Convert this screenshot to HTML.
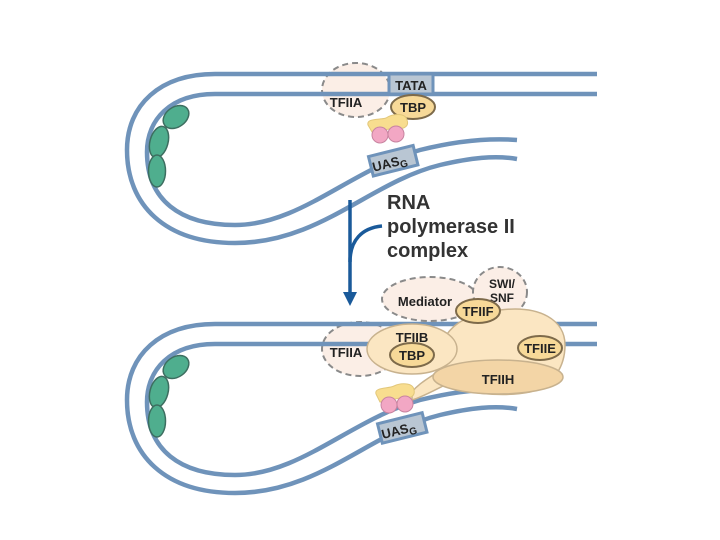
<!DOCTYPE html>
<html><head><meta charset="utf-8"><style>
body{margin:0;background:#fff;}
svg{display:block;font-family:"Liberation Sans",Arial,sans-serif;font-weight:bold;}
</style></head><body>
<svg width="720" height="540" viewBox="0 0 720 540" xmlns="http://www.w3.org/2000/svg">
<defs>
<g id="dna">
<path d="M597,74 L215,74 C160,74 127,105 127,150 C127,205 165,243 235,243 C320,243 370,182 440,165 C470,158 495,155 517,159" fill="none" stroke="#6f93ba" stroke-width="4.5"/>
<path d="M597,94 L215,94 C170,94 147,120 147,152 C147,200 180,225 235,225 C300,225 350,170 420,150 C460,140 490,138 517,140" fill="none" stroke="#6f93ba" stroke-width="4.5"/>
<ellipse cx="176" cy="117" rx="14" ry="10" transform="rotate(-35 176 117)" fill="#4fae8e" stroke="#3d6e60" stroke-width="1.5"/>
<ellipse cx="159" cy="142" rx="9" ry="16" transform="rotate(15 159 142)" fill="#4fae8e" stroke="#3d6e60" stroke-width="1.5"/>
<ellipse cx="157" cy="171" rx="8.5" ry="16" fill="#4fae8e" stroke="#3d6e60" stroke-width="1.5"/>
</g>
</defs>

<!-- dashed backgrounds -->
<ellipse cx="356" cy="90" rx="34" ry="27" fill="#fbeee6" stroke="#8a8a8a" stroke-width="2" stroke-dasharray="6,4"/>
<ellipse cx="360" cy="349" rx="38" ry="27" fill="#fbeee6" stroke="#8a8a8a" stroke-width="2" stroke-dasharray="6,4"/>

<!-- TOP -->
<use href="#dna"/>
<rect x="389" y="74" width="44" height="20" fill="#b9c6d3" stroke="#6f93ba" stroke-width="3"/>
<text x="411" y="90" font-size="13" text-anchor="middle" fill="#222">TATA</text>
<text x="346" y="107" font-size="13" text-anchor="middle" fill="#222">TFIIA</text>
<ellipse cx="413" cy="107" rx="22" ry="12" fill="#f7d998" stroke="#7d6a4a" stroke-width="2"/>
<text x="413" y="112" font-size="13" text-anchor="middle" fill="#222">TBP</text>
<path d="M368,125 C366,118 380,120 386,118 C392,114 405,112 407,120 C410,128 400,130 395,128 L372,132 Z" fill="#f8dd8f" stroke="#e2c77a"/>
<circle cx="380" cy="135" r="8" fill="#f2a7c4" stroke="#c884a0"/>
<circle cx="396" cy="134" r="8" fill="#f2a7c4" stroke="#c884a0"/>
<g transform="rotate(-14 392 160)">
<rect x="370" y="151" width="46" height="20" fill="#b9c6d3" stroke="#6f93ba" stroke-width="3"/>
<text x="389" y="167" font-size="13" text-anchor="middle" fill="#222">UAS<tspan font-size="10" dy="3">G</tspan></text>
</g>

<!-- arrow -->
<path d="M350,200 L350,298" stroke="#1a5a9a" stroke-width="3.5" fill="none"/>
<path d="M350,262 C350,240 362,228 382,226" stroke="#1a5a9a" stroke-width="3.5" fill="none"/>
<path d="M343,292 L357,292 L350,306 Z" fill="#1a5a9a"/>
<text font-size="20" fill="#333"><tspan x="387" y="209">RNA</tspan><tspan x="387" y="233">polymerase II</tspan><tspan x="387" y="257">complex</tspan></text>

<!-- BOTTOM -->
<use href="#dna" transform="translate(0,250)"/>
<ellipse cx="430" cy="299" rx="48" ry="22" fill="#fbeee6" stroke="#8a8a8a" stroke-width="2" stroke-dasharray="6,4"/>
<ellipse cx="500" cy="292" rx="27" ry="25" fill="#fbeee6" stroke="#8a8a8a" stroke-width="2" stroke-dasharray="6,4"/>
<text x="425" y="306" font-size="13" text-anchor="middle" fill="#222">Mediator</text>
<text x="502" y="288" font-size="12" text-anchor="middle" fill="#222">SWI/</text>
<text x="502" y="302" font-size="12" text-anchor="middle" fill="#222">SNF</text>
<!-- pol body -->
<path d="M412,392 C420,382 430,378 440,370 C436,340 450,315 500,310 C540,305 565,320 565,345 C565,365 555,385 530,392 C500,398 460,392 445,385 C435,390 420,398 412,400 Z" fill="#fbe6c2" stroke="#c8b28e" stroke-width="1.5"/>
<ellipse cx="498" cy="377" rx="65" ry="17" fill="#f3d5a6" stroke="#c8b28e" stroke-width="1.5"/>
<text x="498" y="384" font-size="13" text-anchor="middle" fill="#222">TFIIH</text>
<ellipse cx="412" cy="349" rx="45" ry="25" fill="#fbe6c2" stroke="#c8b28e" stroke-width="1.5"/>
<text x="346" y="357" font-size="13" text-anchor="middle" fill="#222">TFIIA</text>
<text x="412" y="342" font-size="13" text-anchor="middle" fill="#222">TFIIB</text>
<ellipse cx="412" cy="355" rx="22" ry="12" fill="#f7d998" stroke="#7d6a4a" stroke-width="2"/>
<text x="412" y="360" font-size="13" text-anchor="middle" fill="#222">TBP</text>
<ellipse cx="478" cy="311" rx="22" ry="12" fill="#f7d998" stroke="#7d6a4a" stroke-width="2"/>
<text x="478" y="316" font-size="13" text-anchor="middle" fill="#222">TFIIF</text>
<ellipse cx="540" cy="348" rx="22" ry="12" fill="#f7d998" stroke="#7d6a4a" stroke-width="2"/>
<text x="540" y="353" font-size="13" text-anchor="middle" fill="#222">TFIIE</text>
<path d="M376,394 C374,387 388,389 394,386 C400,383 413,382 414,390 C416,398 406,399 400,398 L380,402 Z" fill="#f8dd8f" stroke="#e2c77a"/>
<circle cx="389" cy="405" r="8" fill="#f2a7c4" stroke="#c884a0"/>
<circle cx="405" cy="404" r="8" fill="#f2a7c4" stroke="#c884a0"/>
<g transform="rotate(-14 402 427)">
<rect x="379" y="418" width="46" height="20" fill="#b9c6d3" stroke="#6f93ba" stroke-width="3"/>
<text x="398" y="434" font-size="13" text-anchor="middle" fill="#222">UAS<tspan font-size="10" dy="3">G</tspan></text>
</g>
</svg>
</body></html>
